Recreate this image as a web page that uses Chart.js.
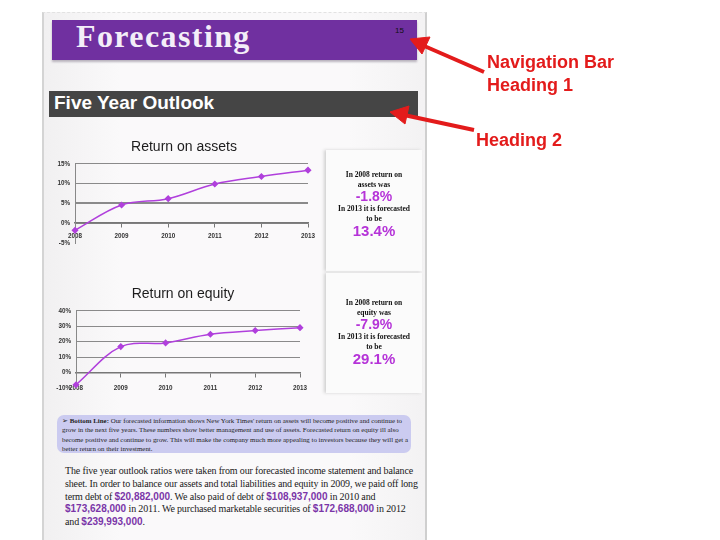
<!DOCTYPE html>
<html>
<head>
<meta charset="utf-8">
<script src="https://cdn.jsdelivr.net/npm/chart.js@4.4.0/dist/chart.umd.min.js"></script>
<style>
    body { margin: 0; width: 720px; height: 540px; overflow: hidden; background: #fff; position: relative; font-family: 'Liberation Serif', serif; }
    .abs { position: absolute; }
    .page { left: 42px; top: 12px; width: 381px; height: 540px; background: linear-gradient(90deg, #f1f0f1, #faf9fa 20%, #faf9fa 80%, #f3f2f3);
            border-left: 2px solid #d4d4d4; border-right: 2px solid #cfcfcf; border-top: 1px dashed #e2e2e2; }
    .nav { left: 52px; top: 20px; width: 365px; height: 40px; background: #7030a0; box-shadow: 0 2px 2px #b9b3bd; }
    .nav-title { left: 76px; top: 18px; font: bold 32px 'Liberation Serif', serif; letter-spacing: 1.4px; color: #f4eef8; }
    .pagenum { left: 395px; top: 26px; font: 8px 'Liberation Sans', sans-serif; color: #111; }
    .h2 { left: 49px; top: 91px; width: 369px; height: 26px; background: #454545; }
    .h2-title { left: 54px; top: 92px; font: bold 19px 'Liberation Sans', sans-serif; color: #fff; }
    .panel { left: 326px; width: 96px; background: #fbfbfb; box-shadow: -2px 0 3px #d2d2d2; text-align: center; }
    .panel p { margin: 0; font: bold 7.5px 'Liberation Serif', serif; line-height: 9.5px; color: #111; }
    .panel .big { font: bold 14px 'Liberation Sans', sans-serif; line-height: 15px; color: #b533d8; }
    .bottom { left: 57px; top: 415px; width: 344px; height: 36px; padding: 1px 5px 1px 5px; border-radius: 7px; background: #cbcbf0;
              font: 6.9px 'Liberation Serif', serif; line-height: 9.4px; color: #222; }
    .para { left: 65px; top: 465px; width: 358px; font: 10px 'Liberation Serif', serif; letter-spacing: -0.15px; line-height: 12.8px; color: #1a1a1a; }
    .para b { font: bold 10px 'Liberation Sans', sans-serif; line-height: 12px; letter-spacing: 0; color: #7a35a8; }
    .bottom div, .para div { white-space: nowrap; }
    .note { font: bold 18px 'Liberation Sans', sans-serif; color: #e31b1b; line-height: 23px; }
</style>
</head>
<body>
<div class="abs page"></div>
<div class="abs nav"></div>
<div class="abs nav-title">Forecasting</div>
<div class="abs pagenum">15</div>
<div class="abs h2"></div>
<div class="abs h2-title">Five Year Outlook</div>

<div class="abs" style="left:45px; top:135px; width:280px; height:120px;"><canvas id="roaChart"></canvas></div>
<div class="abs" style="left:45px; top:282px; width:280px; height:115px;"><canvas id="roeChart"></canvas></div>

<div class="abs panel" style="top:150px; height:121px;">
    <div style="height:20px"></div>
    <p>In 2008 return on</p>
    <p>assets was</p>
    <p class="big">-1.8%</p>
    <p>In 2013 it is forecasted</p>
    <p>to be</p>
    <p class="big" style="font-size:15px">13.4%</p>
</div>
<div class="abs panel" style="top:273px; height:120px;">
    <div style="height:25px"></div>
    <p>In 2008 return on</p>
    <p>equity was</p>
    <p class="big">-7.9%</p>
    <p>In 2013 it is forecasted</p>
    <p>to be</p>
    <p class="big" style="font-size:15px">29.1%</p>
</div>

<div class="abs bottom">
    <div>&#10146; <b>Bottom Line:</b> Our forecasted information shows New York Times' return on assets will become positive and continue to</div>
    <div>grow in the next five years. These numbers show better management and use of assets. Forecasted return on equity ill also</div>
    <div>become positive and continue to grow. This will make the company much more appealing to investors because they will get a</div>
    <div>better return on their investment.</div>
</div>

<div class="abs para">
    <div>The five year outlook ratios were taken from our forecasted income statement and balance</div>
    <div>sheet. In order to balance our assets and total liabilities and equity in 2009, we paid off long</div>
    <div>term debt of <b>$20,882,000</b>. We also paid of debt of <b>$108,937,000</b> in 2010 and</div>
    <div><b>$173,628,000</b> in 2011. We purchased marketable securities of <b>$172,688,000</b> in 2012</div>
    <div>and <b>$239,993,000</b>.</div>
</div>

<svg class="abs" style="left:0; top:0;" width="720" height="540">
    <g fill="#e31b1b" stroke="#e31b1b">
        <line x1="484" y1="72" x2="422" y2="45" stroke-width="4"/>
        <polygon points="410,39 430,37 422,54" stroke-width="1"/>
        <line x1="474" y1="130" x2="404" y2="115" stroke-width="4"/>
        <polygon points="390,112 409,106 405,124" stroke-width="1"/>
    </g>
</svg>
<div class="abs note" style="left:487px; top:51px;">Navigation Bar</div>
<div class="abs note" style="left:487px; top:74px;">Heading 1</div>
<div class="abs note" style="left:476px; top:129px;">Heading 2</div>

<script>
// Data
const years = ['2008', '2009', '2010', '2011', '2012', '2013'];
const returnOnAssets = [-1.8, 4.6, 6.2, 9.9, 11.8, 13.4];
const returnOnEquity = [-7.9, 16.8, 19.2, 24.8, 27.2, 29.1];
const assetsTicks = [-5, 0, 5, 10, 15];
const equityTicks = [-10, 0, 10, 20, 30, 40];

const lineColor = '#b040dc';
const tickFont = { family: 'Liberation Sans', size: 6.3, weight: 'bold' };

function makeChart(id, title, values, ticks, opts) {
    return new Chart(document.getElementById(id), {
        type: 'line',
        data: {
            labels: years,
            datasets: [{
                label: title,
                data: values,
                borderColor: lineColor,
                backgroundColor: lineColor,
                borderWidth: 1.5,
                tension: 0.35,
                pointStyle: 'rectRot',
                pointRadius: 2.5,
            }]
        },
        options: {
            responsive: true,
            maintainAspectRatio: false,
            animation: false,
            layout: { padding: opts.pad },
            plugins: {
                legend: { display: false },
                tooltip: { enabled: false },
                title: {
                    display: true,
                    text: title,
                    color: '#1c1c1c',
                    font: { family: 'Liberation Sans', size: 14, weight: 'normal' },
                    padding: { top: 4, bottom: 8 }
                }
            },
            scales: {
                x: {
                    position: { y: 0 },
                    offset: false,
                    grid: { drawOnChartArea: false, drawTicks: true, tickLength: 4, color: '#777' },
                    border: { color: '#777', width: 1.5 },
                    ticks: { color: '#333', padding: opts.xPad, maxRotation: 0, font: tickFont }
                },
                y: {
                    min: ticks[0],
                    max: ticks[ticks.length - 1],
                    afterBuildTicks: (scale) => { scale.ticks = ticks.map(v => ({ value: v })); },
                    afterFit: (scale) => { scale.width = opts.yWidth; },
                    grid: {
                        drawTicks: false,
                        color: (ctx) => ctx.tick && ctx.tick.value === ticks[0] ? 'rgba(0,0,0,0)' : '#8a8a8a',
                        lineWidth: (ctx) => ctx.tick && ctx.tick.value === opts.thickAt ? 2 : 1
                    },
                    border: { color: '#888' },
                    ticks: {
                        color: '#333',
                        padding: 5,
                        font: tickFont,
                        callback: (v) => v + '%'
                    }
                },
                // empty spacer on the right so the title sits where Excel put it
                spacer: {
                    type: 'linear',
                    position: 'right',
                    grid: { display: false },
                    border: { display: false },
                    ticks: { display: false },
                    afterFit: (scale) => { scale.width = opts.spacer; }
                }
            }
        }
    });
}

makeChart('roaChart', 'Return on assets', returnOnAssets, assetsTicks,
    { pad: { left: 0, right: 2, top: 0, bottom: 12 }, yWidth: 30, spacer: 15, xPad: 5, thickAt: 5 });
makeChart('roeChart', 'Return on equity', returnOnEquity, equityTicks,
    { pad: { left: 0, right: 4, top: 0, bottom: 9 }, yWidth: 31, spacer: 21, xPad: 8, thickAt: null });
</script>
</body>
</html>
